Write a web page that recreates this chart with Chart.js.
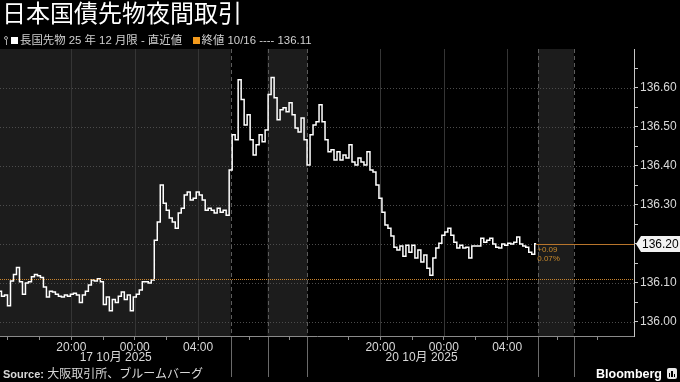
<!DOCTYPE html>
<html>
<head>
<meta charset="utf-8">
<script src="https://cdn.jsdelivr.net/npm/chart.js@4"></script>
<style>
html,body{margin:0;padding:0;background:#000;}
#wrap{position:relative;width:680px;height:382px;overflow:hidden;background:#000;font-family:"Liberation Sans","Noto Sans CJK JP",sans-serif;}
#c{position:absolute;left:0;top:0;}
#title{position:absolute;left:2px;top:-2px;color:#fff;font-size:24px;line-height:28px;font-family:"Noto Sans CJK JP",sans-serif;white-space:nowrap;}
#legend{position:absolute;left:3px;top:33px;color:#d0d0d0;font-size:11.4px;line-height:14px;white-space:nowrap;}
#legend .sq{display:inline-block;width:7px;height:7px;margin:0 2px 0 1px;vertical-align:0px;}
#legend .pin{display:inline-block;position:relative;width:6px;height:10px;vertical-align:-2px;margin-right:1px;}
#legend .pin:before{content:"";position:absolute;left:1px;top:0;width:4px;height:4px;border:1px solid #aaa;border-radius:3px;box-sizing:border-box;}
#legend .pin:after{content:"";position:absolute;left:2.5px;top:4px;width:1px;height:5px;background:#aaa;}
#source{position:absolute;left:3px;top:367px;color:#d8d8d8;font-size:12px;line-height:15px;white-space:nowrap;}
#source b{font-size:11px;}
#logo{position:absolute;left:596px;top:366px;color:#fff;font-size:12.5px;font-weight:bold;line-height:16px;white-space:nowrap;}
#logo .ic{display:inline-block;width:10px;height:11px;background:#e8e8e8;border-radius:2px;margin-left:5px;vertical-align:-1px;position:relative;}
#logo .ic i{position:absolute;bottom:2px;width:1.5px;background:#000;}
</style>
</head>
<body>
<div id="wrap">
<canvas id="c" width="680" height="382"></canvas>
<div id="title"></div>
<div id="legend"></div>
<div id="source"><b>Source:</b> <span id="srctext"></span></div>
<div id="logo">Bloomberg<span class="ic"><i style="left:2px;height:4px"></i><i style="left:4.5px;height:6px"></i><i style="left:7px;height:3px"></i></span></div>
</div>
<script>
// ---------------- data ----------------
const TITLE = '日本国債先物夜間取引';
const SERIES_LABEL = '長国先物 25 年 12 月限 - 直近値';
const CLOSE_LABEL = '終値 10/16 ----';
const SOURCE_TEXT = '大阪取引所、ブルームバーグ';

// one sample every STEP_H hours on the compressed session time axis (hours since 15:30, 17 Oct)
const STEP_H = 0.189;
const PRICES_17 = [
 136.078,136.065,136.068,136.041,136.104,136.121,136.139,136.102,136.070,136.099,
 136.102,136.115,136.121,136.118,136.113,136.089,136.063,136.078,136.076,136.070,
 136.065,136.063,136.068,136.065,136.070,136.073,136.068,136.049,136.068,136.078,
 136.094,136.107,136.104,136.110,136.102,136.044,136.063,136.028,136.057,136.049,
 136.065,136.076,136.057,136.068,136.028,136.063,136.070,136.081,136.102,136.102,
 136.099,136.107,136.209,136.256,136.351,136.304,136.286,136.266,136.256,136.240,
 136.279,136.291,136.325,136.333,136.312,136.317,136.333,136.325,136.312,136.286,
 136.291,136.286,136.279,136.291,136.281,136.286,136.273
];
const PRICES_20_DAY = [
 136.389,136.480,136.467,136.621,136.570,136.505,136.531,136.467,136.428,136.454,
 136.480,136.462,136.492,136.583,136.627,136.575,136.518,136.544,136.549,136.539,
 136.562,136.531,136.497,136.487,136.523,136.467,136.402,136.480,136.505,136.513,
 136.557,136.513,136.467,136.436,136.441,136.415,136.436,136.415,136.428,136.420,
 136.454,136.410,136.402,136.420,136.410,136.402,136.436,136.389
];
const PRICES_20_NIGHT = [
 136.384,136.351,136.317,136.281,136.248,136.240,136.220,136.191,136.184,136.194,
 136.168,136.196,136.178,136.196,136.163,136.184,136.153,136.171,136.137,136.119,
 136.163,136.189,136.201,136.222,136.230,136.240,136.222,136.204,136.189,136.196,
 136.189,136.191,136.163,136.194,136.194,136.194,136.214,136.204,136.209,136.214,
 136.199,136.191,136.189,136.199,136.196,136.201,136.199,136.204,136.217,136.199,
 136.194,136.191,136.178,136.173,136.200
];
const PREV_CLOSE = 136.11;
const LAST = 136.20;
const CHANGE_TXT = '+0.09';
const PCT_TXT = '0.07%';

const X_MIN = 0, X_MAX = 40;
const X_TICK_VALUES = [0.5,2.5,4.5,6.5,8.5,10.5,12.5,15.75,18.27,22,24,26,28,30,32,35.2,37.7];
const X_TICK_LABELS = ['','','20:00','','00:00','','04:00','','','','20:00','','00:00','','04:00','',''];
const HOUR_GRID = [4.5,8.5,12.5,24,28,32];
const SESSION_BREAKS = [14.55,16.88,19.4,33.95,36.2];
const SHADED = [[0,14.55],[16.88,19.4],[33.95,36.2]];
const DATE_LABELS = ['17 10月 2025','20 10月 2025'];
const DATE_AT = [7.3,26.6];

const Y_MIN = 135.963, Y_MAX = 136.70;
const Y_TICK_VALUES = [136.00,136.05,136.10,136.15,136.20,136.25,136.30,136.35,136.40,136.45,136.50,136.55,136.60,136.65];
const Y_TICK_LABELS = ['136.00','','136.10','','136.20','','136.30','','136.40','','136.50','','136.60',''];

// ---------------- page text ----------------
document.getElementById('title').textContent = TITLE;
document.getElementById('srctext').textContent = SOURCE_TEXT;
document.getElementById('legend').innerHTML =
  '<span class="pin"></span><span class="sq" style="background:#fff"></span>' + SERIES_LABEL +
  '&nbsp;&nbsp;&nbsp;<span class="sq" style="background:#f39a1c"></span>' + CLOSE_LABEL + ' ' + PREV_CLOSE.toFixed(2);

// ---------------- chart ----------------
const PRICES = PRICES_17.concat(PRICES_20_DAY, PRICES_20_NIGHT);
const points = PRICES.map((v,i)=>({x:i*STEP_H, y:v}));
const FONT = '"Liberation Sans","Noto Sans CJK JP",sans-serif';

const backdrop = {
  id:'backdrop',
  beforeDraw(chart){
    const c = chart.ctx, a = chart.chartArea, xs = chart.scales.x, ys = chart.scales.y;
    c.save();
    c.fillStyle = '#1c1c1c';
    SHADED.forEach(([s,e])=>{
      const x0 = xs.getPixelForValue(s), x1 = xs.getPixelForValue(e);
      c.fillRect(x0, a.top, x1-x0, a.bottom-a.top);
    });
    // horizontal dotted grid
    c.strokeStyle = '#4c4c4c'; c.lineWidth = 1; c.setLineDash([1,2]);
    Y_TICK_VALUES.forEach((v,i)=>{
      if(!Y_TICK_LABELS[i]) return;
      const y = Math.round(ys.getPixelForValue(v))+0.5;
      c.beginPath(); c.moveTo(a.left,y); c.lineTo(a.right,y); c.stroke();
    });
    // vertical hour grid
    c.setLineDash([]); c.strokeStyle = '#353535';
    HOUR_GRID.forEach(v=>{
      const x = Math.round(xs.getPixelForValue(v))+0.5;
      c.beginPath(); c.moveTo(x,a.top); c.lineTo(x,a.bottom); c.stroke();
    });
    // session breaks
    SESSION_BREAKS.forEach(v=>{
      const x = Math.round(xs.getPixelForValue(v))+0.5;
      c.strokeStyle = '#5c5c5c'; c.setLineDash([4,3]);
      c.beginPath(); c.moveTo(x,a.top); c.lineTo(x,a.bottom); c.stroke();
      c.setLineDash([]); c.strokeStyle = '#6a6a6a';
      c.beginPath(); c.moveTo(x,a.bottom); c.lineTo(x,377); c.stroke();
    });
    c.restore();
  },
  afterDatasetsDraw(chart){
    const c = chart.ctx, a = chart.chartArea, xs = chart.scales.x, ys = chart.scales.y;
    c.save();
    // previous close dotted line
    const yc = Math.round(ys.getPixelForValue(PREV_CLOSE))+0.5;
    c.strokeStyle = '#c98530'; c.lineWidth = 1; c.setLineDash([1,1]);
    c.beginPath(); c.moveTo(a.left,yc); c.lineTo(a.right,yc); c.stroke();
    // last price line
    const lastPt = points[points.length-1];
    const xl = xs.getPixelForValue(lastPt.x);
    const yl = Math.round(ys.getPixelForValue(LAST))+0.5;
    c.setLineDash([]); c.strokeStyle = '#b8752c';
    c.beginPath(); c.moveTo(xl,yl); c.lineTo(a.right,yl); c.stroke();
    // change labels
    c.fillStyle = '#c98a2c'; c.font = '8px ' + FONT; c.textAlign = 'left'; c.textBaseline = 'middle';
    c.fillText(CHANGE_TXT, xl+1, yl+5);
    c.fillText(PCT_TXT, xl+1, yl+14);
    // date labels
    c.fillStyle = '#d9d9d9'; c.font = '12px ' + FONT; c.textAlign = 'center';
    DATE_LABELS.forEach((t,i)=>c.fillText(t, xs.getPixelForValue(DATE_AT[i]), 358));
    c.restore();
  },
  afterDraw(chart){
    const c = chart.ctx, a = chart.chartArea, ys = chart.scales.y;
    const y = Math.round(ys.getPixelForValue(LAST));
    const x0 = a.right + 2;
    c.save();
    c.fillStyle = '#f2f2f2';
    c.beginPath();
    c.moveTo(x0, y);
    c.lineTo(x0+5, y-8);
    c.lineTo(680, y-8);
    c.lineTo(680, y+8);
    c.lineTo(x0+5, y+8);
    c.closePath(); c.fill();
    c.fillStyle = '#000'; c.font = '12px ' + FONT; c.textAlign = 'left'; c.textBaseline = 'middle';
    c.fillText(LAST.toFixed(2), x0+6, y+0.5);
    c.restore();
  }
};

new Chart(document.getElementById('c'), {
  type:'line',
  data:{datasets:[{data:points, borderColor:'#ffffff', borderWidth:1.5, pointRadius:0, tension:0, stepped:'middle', fill:false}]},
  options:{
    responsive:false, animation:false, devicePixelRatio:1,
    layout:{padding:{top:49,left:0,right:0,bottom:0}},
    plugins:{legend:{display:false}, tooltip:{enabled:false}},
    scales:{
      x:{type:'linear', min:X_MIN, max:X_MAX,
        afterBuildTicks:s=>{ s.ticks = X_TICK_VALUES.map(v=>({value:v})); },
        afterFit:s=>{ s.height = 46; },
        ticks:{autoSkip:false, maxRotation:0, minRotation:0, padding:0, color:'#d9d9d9', font:{family:FONT,size:12},
          callback:(v,i)=>X_TICK_LABELS[i]},
        grid:{drawOnChartArea:false, drawTicks:true, tickLength:4, tickColor:'#8a8a8a'},
        border:{display:true, color:'#8a8a8a', width:1}
      },
      y:{type:'linear', position:'right', min:Y_MIN, max:Y_MAX,
        afterBuildTicks:s=>{ s.ticks = Y_TICK_VALUES.map(v=>({value:v})); },
        afterFit:s=>{ s.width = 46; },
        ticks:{autoSkip:false, padding:2, color:'#d9d9d9', font:{family:FONT,size:12},
          callback:(v,i)=>Y_TICK_LABELS[i]},
        grid:{drawOnChartArea:false, drawTicks:true, tickLength:4, tickColor:'#c8c8c8'},
        border:{display:true, color:'#c8c8c8', width:1}
      }
    }
  },
  plugins:[backdrop]
});
</script>
</body>
</html>
